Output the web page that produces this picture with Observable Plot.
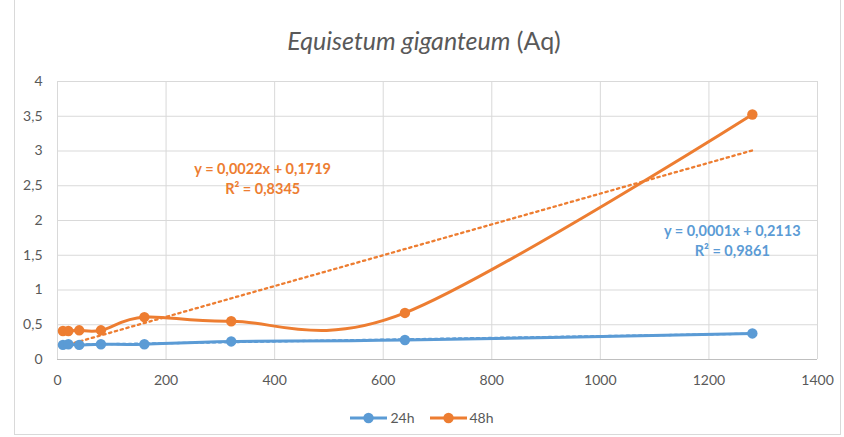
<!DOCTYPE html>
<html>
<head>
<meta charset="utf-8">
<script src="https://cdn.jsdelivr.net/npm/d3@7"></script>
<script src="https://cdn.jsdelivr.net/npm/@observablehq/plot@0.6"></script>
<style>
  html, body { margin: 0; padding: 0; background: #fff; }
  #wrap { position: relative; width: 844px; height: 437px; overflow: hidden; font-family: Lato, "Open Sans", sans-serif; }
  #border { position: absolute; left: 14px; top: -1px; width: 827px; height: 436px; border: 1px solid #d9d9d9; box-sizing: border-box; }
  #title { position: absolute; left: 2px; width: 844px; top: 25px; text-align: center; font-size: 25px; line-height: 1.2; color: #595959; }
  #legend { position: absolute; left: 0; width: 844px; top: 409px; display: flex; justify-content: center; gap: 15px; font-size: 14px; line-height: 18px; color: #595959; }
  .item { display: flex; align-items: center; gap: 3px; }
  #chart { position: absolute; left: 0; top: 0; }
</style>
</head>
<body>
<div id="wrap">
  <div id="border"></div>
  <div id="chart"></div>
  <div id="title"><i>Equisetum giganteum</i> (Aq)</div>
  <div id="legend"></div>
</div>
<script>
const dilutions = [10, 20, 40, 80, 160, 320, 640, 1280];
const values24h = [0.21, 0.22, 0.21, 0.22, 0.22, 0.26, 0.28, 0.375];
const values48h = [0.41, 0.41, 0.42, 0.42, 0.61, 0.55, 0.67, 3.525];
const seriesNames = ["24h", "48h"];
const seriesColors = ["#5b9bd5", "#ed7d31"];
const equations48h = ["y = 0,0022x + 0,1719", "R² = 0,8345"];
const equations24h = ["y = 0,0001x + 0,2113", "R² = 0,9861"];
const xTicks = [0, 200, 400, 600, 800, 1000, 1200, 1400];
const yTicks = [0, 0.5, 1, 1.5, 2, 2.5, 3, 3.5, 4];

const d24 = dilutions.map((x, i) => ({x, y: values24h[i]}));
const d48 = dilutions.map((x, i) => ({x, y: values48h[i]}));
const comma = d => String(d).replace(".", ",");

const plot = Plot.plot({
  width: 844,
  height: 437,
  marginLeft: 57,
  marginRight: 27,
  marginTop: 81,
  marginBottom: 78,
  style: {fontFamily: "Lato, 'Open Sans', sans-serif", fontSize: "14px", color: "#595959", background: "transparent"},
  x: {domain: [0, 1400], ticks: xTicks},
  y: {domain: [0, 4], ticks: yTicks},
  marks: [
    Plot.gridX(xTicks, {stroke: "#d9d9d9", strokeOpacity: 1, strokeWidth: 1}),
    Plot.gridY(yTicks, {stroke: "#d9d9d9", strokeOpacity: 1, strokeWidth: 1}),
    Plot.ruleY([0], {stroke: "#bfbfbf", strokeWidth: 1.2}),
    Plot.axisX({ticks: xTicks, tickSize: 0, tickPadding: 16, tickFormat: comma, fill: "#595959", fontSize: 14, label: null}),
    Plot.axisY({ticks: yTicks, tickSize: 0, tickPadding: 15, tickFormat: comma, fill: "#595959", fontSize: 14, label: null}),
    Plot.linearRegressionY(d24, {x: "x", y: "y", ci: 0, stroke: seriesColors[0], strokeWidth: 2.3, strokeDasharray: "2.3,3.7"}),
    Plot.linearRegressionY(d48, {x: "x", y: "y", ci: 0, stroke: seriesColors[1], strokeWidth: 2.3, strokeDasharray: "2.3,3.7"}),
    Plot.line(d24, {x: "x", y: "y", stroke: seriesColors[0], strokeWidth: 3, curve: "cardinal"}),
    Plot.line(d48, {x: "x", y: "y", stroke: seriesColors[1], strokeWidth: 3, curve: "cardinal"}),
    Plot.dot(d24, {x: "x", y: "y", r: 5.2, fill: seriesColors[0], stroke: null}),
    Plot.dot(d48, {x: "x", y: "y", r: 5.2, fill: seriesColors[1], stroke: null}),
    Plot.text([equations48h.join("\n")], {x: 378, y: 2.62, text: d => d, fill: seriesColors[1], fontWeight: "bold", fontSize: 14.5, lineHeight: 1.38}),
    Plot.text([equations24h.join("\n")], {x: 1243, y: 1.73, text: d => d, fill: seriesColors[0], fontWeight: "bold", fontSize: 14.5, lineHeight: 1.38})
  ]
});
document.getElementById("chart").appendChild(plot);

const legend = document.getElementById("legend");
seriesNames.forEach((name, i) => {
  const item = document.createElement("div");
  item.className = "item";
  item.innerHTML = `<svg width="37" height="12"><line x1="0" y1="6" x2="37" y2="6" stroke="${seriesColors[i]}" stroke-width="3"/><circle cx="18.5" cy="6" r="5.2" fill="${seriesColors[i]}"/></svg><span>${name}</span>`;
  legend.appendChild(item);
});
</script>
</body>
</html>
